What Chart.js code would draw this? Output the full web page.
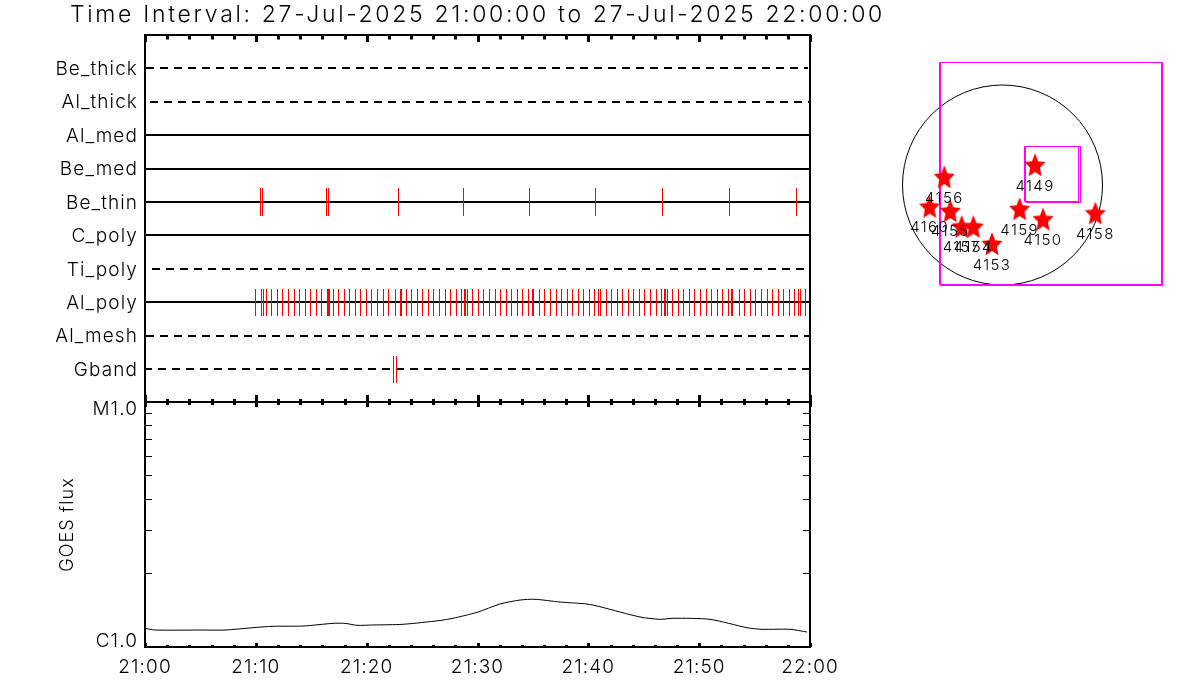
<!DOCTYPE html>
<html><head><meta charset="utf-8">
<style>html,body{margin:0;padding:0;background:#fff}canvas{position:absolute;left:0;top:0}</style>
<script src="https://cdn.jsdelivr.net/npm/chart.js@4"></script>
</head><body>
<canvas id="top" width="1200" height="700"></canvas>
<canvas id="low" width="1200" height="700"></canvas>
<canvas id="map" width="1200" height="700"></canvas>
<script>
const titleText = 'Time Interval: 27-Jul-2025 21:00:00 to 27-Jul-2025 22:00:00';
const rowNames = ['Be_thick','Al_thick','Al_med','Be_med','Be_thin','C_poly','Ti_poly','Al_poly','Al_mesh','Gband'];
const rowStart = [0.09,0.45,0,0,0,0,0,0,0.09,0];
const rowEnd = [59.82,59.91,60,60,60,60,59.46,60,60,60];
const rowDashed = [true,true,false,false,false,false,true,false,true,true];
const rowDashOffset = [0,0,0,0,0,0,7,0,0,1];
const beThinTimes = [10.42,10.60,16.39,16.57,22.86,28.74,34.69,40.69,46.70,52.76,58.78];
const gbandTimes = [22.41,22.67];
const alPolyTimes = [9.96,10.50,10.68,10.95,11.40,11.94,12.45,12.93,13.47,13.93,14.47,14.92,15.46,15.91,16.45,16.58,16.69,16.99,17.44,17.99,18.44,18.98,19.43,19.97,20.42,20.96,21.50,21.96,22.59,23.05,23.14,23.58,24.03,24.57,25.02,25.56,26.02,26.56,27.10,27.55,28.09,28.54,28.86,28.95,29.08,29.53,30.08,30.53,31.07,31.61,32.06,32.60,33.05,33.60,34.05,34.59,34.92,35.01,35.58,36.03,36.57,37.11,37.56,38.11,38.56,39.10,39.55,40.09,40.54,40.90,41.08,41.62,42.08,42.62,43.07,43.61,44.06,44.60,45.05,45.60,46.14,46.59,46.87,46.96,47.13,47.58,48.12,48.57,49.11,49.57,50.11,50.65,51.10,51.64,52.09,52.63,52.94,53.03,53.63,54.08,54.62,55.07,55.61,56.15,56.60,57.15,57.60,58.14,58.59,58.95,59.13,59.58];
const xTickLabels = ['21:00','21:10','21:20','21:30','21:40','21:50','22:00'];
const goesTimes = [0,0.9,5.23,7.22,9.74,11.55,14.26,16.96,18.05,19.13,20.57,23.28,26.62,27.79,29.96,32.03,33.84,35.19,37.45,39.88,41.05,44.66,46.47,47.64,50.98,54.32,55.67,58.2,59.73];
const goesFlux = [1.192,1.173,1.173,1.173,1.199,1.215,1.218,1.249,1.249,1.226,1.230,1.238,1.283,1.310,1.385,1.498,1.555,1.566,1.526,1.498,1.460,1.326,1.297,1.310,1.297,1.199,1.181,1.181,1.151];
const goesTickValues = [1,2,3,4,5,6,7,8,9,10];
const goesLabels = {1:'C1.0',10:'M1.0'};
const arNames = ['4149','4156','4160','4155','4157','4154','4153','4159','4150','4158'];
const arX = [309,-553,-692,-496,-388,-277,-100,163,385,882];
const arY = [180,66,-216,-256,-406,-406,-570,-238,-335,-278];
const solarRadius = 950;
const fovBoxes = [
  [[-598.5,1163.75],[1510.5,1163.75],[1510.5,-945.25],[-598.5,-945.25],[-598.5,1163.75]],
  [[-589,1163.75],[1520,1163.75],[1520,-954.75],[-589,-954.75],[-589,1163.75]],
  [[209,365.75],[722,365.75],[722,-156.75],[209,-156.75],[209,365.75]],
  [[218.5,365.75],[741,365.75],[741,-166.25],[218.5,-166.25],[218.5,365.75]]
];

const FAMILY = 'Inter';
const WEIGHT = 300;
const TITLE_SPACING = '2.68px', TICK_SPACING = '1.1px', AR_SPACING = '1.4px';
Chart.defaults.animation = false;
Chart.defaults.events = [];
Chart.defaults.color = '#000';

const setSpacing = v => ({
  id:'spacing',
  beforeLayout(c){c.ctx.letterSpacing=v},
  beforeDraw(c){c.ctx.letterSpacing=v}
});
const snap = {
  id:'snap',
  afterDatasetsUpdate(c){
    c.data.datasets.forEach((d,i)=>{
      if(!d.snap) return;
      c.getDatasetMeta(i).data.forEach(p=>{
        if(d.snap==='row'){p.y=Math.round(p.y)}
        else if(d.snap==='tick'){p.x=Math.floor(p.x)+.5;p.y=Math.round(p.y)}
        else {p.x=Math.floor(p.x)+.5;p.y=Math.floor(p.y)+.5}
      });
    });
  }
};
function frame(tickSpec){
  return {
    id:'frame',
    afterDatasetsDraw(c){
      const {ctx,chartArea:a,scales}=c;
      ctx.save();
      ctx.strokeStyle='#000';ctx.lineCap='butt';
      const draw=(x1,y1,x2,y2,w)=>{ctx.lineWidth=w;ctx.beginPath();ctx.moveTo(x1,y1);ctx.lineTo(x2,y2);ctx.stroke()};
      scales.x.ticks.forEach(t=>{
        const x=Math.round(scales.x.getPixelForValue(t.value))+.5;
        const major=t.value%10===0;
        draw(x,a.top,x,a.top+(major?tickSpec.topMajor:tickSpec.topMinor),3);
        draw(x,a.bottom,x,a.bottom-(major?tickSpec.botMajor:tickSpec.botMinor),3);
      });
      if(tickSpec.yTicks){
        scales.y.ticks.forEach(t=>{
          const y=Math.floor(scales.y.getPixelForValue(t.value))+.5;
          draw(a.left,y,a.left+tickSpec.yTicks,y,1);
          draw(a.right,y,a.right-tickSpec.yTicks,y,1);
        });
      }
      ctx.lineWidth=2;ctx.strokeRect(a.left,a.top,a.right-a.left,a.bottom-a.top);
      ctx.restore();
    }
  };
}
const titleSpacing = {
  id:'titleSpacing',
  afterLayout(c){
    const t=c.titleBlock;
    if(t.__wrapped) return;
    const d=t.draw;
    t.draw=function(){
      /* widen the box around the same centre so the long title is not squeezed to the plot width */
      const mid=(c.chartArea.left+c.chartArea.right)/2;
      t.left=mid-470;t.right=mid+470;
      c.ctx.letterSpacing=TITLE_SPACING;d.apply(t,arguments);c.ctx.letterSpacing=TICK_SPACING;
    };
    t.__wrapped=true;
  }
};
const nudgeLabels = {
  id:'nudgeLabels',
  beforeDraw(c){
    const s=c.scales.y, items=s.getLabelItems();
    if(items.__nudged) return;
    items.forEach(it=>{
      if(it.label==='M1.0') it.options.translation[1]+=6;
      if(it.label==='C1.0') it.options.translation[1]-=7;
    });
    items.__nudged=true;
  }
};
const font = size => ({family:FAMILY,size,weight:WEIGHT,lineHeight:1});
const segs = (times,row) => times.flatMap(x=>[{x,y:row-.405},{x,y:row+.405},{x,y:NaN}]);
const rowOf = name => 10-rowNames.indexOf(name);
const minuteTick = v => v%10===0 ? xTickLabels[v/10] : '';

/* Upper panel: channel rows */
new Chart(document.getElementById('top'),{
  type:'scatter',
  data:{datasets:[
    {label:'Be_thin events',data:segs(beThinTimes,rowOf('Be_thin')),showLine:true,borderColor:'#ff0000',borderWidth:1,snap:'tick'},
    {label:'Al_poly events',data:segs(alPolyTimes,rowOf('Al_poly')),showLine:true,borderColor:'#ff0000',borderWidth:1,snap:'tick'},
    {label:'Gband events',data:segs(gbandTimes,rowOf('Gband')),showLine:true,borderColor:'#ff0000',borderWidth:1,snap:'tick'},
    ...rowNames.map((n,i)=>({
      label:n,data:[{x:rowStart[i],y:10-i},{x:rowEnd[i],y:10-i}],showLine:true,
      borderColor:'#000',borderWidth:2,snap:'row',
      borderDash:rowDashed[i]?[8,6]:[],borderDashOffset:rowDashOffset[i]
    }))
  ]},
  options:{
    responsive:false,
    layout:{padding:{top:0,left:0,right:390,bottom:298}},
    elements:{point:{radius:0}},
    plugins:{legend:{display:false},tooltip:{enabled:false},
      title:{display:true,text:titleText,fullSize:false,color:'#000',font:font(23),padding:{top:4,bottom:8}}},
    scales:{
      x:{type:'linear',min:0,max:60,grid:{display:false,drawTicks:false},border:{display:false},
        ticks:{display:false,stepSize:2,autoSkip:false},afterFit:s=>{s.height=0}},
      y:{type:'linear',min:0.015,max:10.996,grid:{display:false,drawTicks:false},border:{display:false},
        ticks:{stepSize:1,autoSkip:false,padding:7,labelOffset:1,font:font(19),callback:v=>rowNames[10-v]||''},
        afterFit:s=>{s.width=145}}
    }
  },
  plugins:[setSpacing(TICK_SPACING),titleSpacing,snap,frame({topMajor:7,topMinor:4.5,botMajor:7,botMinor:3})]
});

/* Lower panel: GOES flux */
new Chart(document.getElementById('low'),{
  type:'scatter',
  data:{datasets:[{label:'GOES flux',data:goesTimes.map((x,i)=>({x,y:goesFlux[i]})),showLine:true,borderColor:'#000',borderWidth:1,tension:.25}]},
  options:{
    responsive:false,
    layout:{padding:{top:402,left:0,right:390,bottom:0}},
    elements:{point:{radius:0}},
    plugins:{legend:{display:false},tooltip:{enabled:false}},
    scales:{
      x:{type:'linear',min:0,max:60,grid:{display:false,drawTicks:false},border:{display:false},
        ticks:{stepSize:2,autoSkip:false,maxRotation:0,minRotation:0,padding:11,font:font(19),callback:minuteTick},
        afterFit:s=>{s.height=53}},
      y:{type:'logarithmic',min:1,max:10,grid:{display:false,drawTicks:false},border:{display:false},
        title:{display:true,text:'GOES flux',color:'#000',font:font(18),padding:{top:59,bottom:0}},
        ticks:{autoSkip:false,padding:7,labelOffset:1,font:font(19),callback:v=>goesLabels[v]||''},
        afterBuildTicks:s=>{s.ticks=goesTickValues.map(value=>({value}))},
        afterFit:s=>{s.width=145}}
    }
  },
  plugins:[setSpacing(TICK_SPACING),snap,nudgeLabels,frame({topMajor:5,topMinor:3,botMajor:4,botMinor:2,yTicks:7})]
});

/* Right panel: solar disc map */
function starImage(){
  const c=document.createElement('canvas');c.width=c.height=28;
  const g=c.getContext('2d');g.fillStyle='#ff0000';g.beginPath();
  for(let i=0;i<10;i++){
    const r=i%2?5.4:11.5, a=-Math.PI/2+i*Math.PI/5;
    const x=14+r*Math.cos(a)*.96, y=14+r*Math.sin(a)*1.1;
    i?g.lineTo(x,y):g.moveTo(x,y);
  }
  g.closePath();g.fill();return c;
}
const arLabels = {
  id:'arLabels',
  afterDatasetsDraw(c){
    const {ctx,scales:{x,y}}=c;
    ctx.save();ctx.font=`${WEIGHT} 15px ${FAMILY}`;ctx.fillStyle='#000';ctx.textAlign='center';ctx.textBaseline='middle';
    ctx.letterSpacing=AR_SPACING;
    arNames.forEach((n,i)=>ctx.fillText(n,x.getPixelForValue(arX[i]),y.getPixelForValue(arY[i])+20));
    ctx.restore();
  }
};
new Chart(document.getElementById('map'),{
  type:'scatter',
  data:{datasets:[
    {label:'Active regions',data:arNames.map((n,i)=>({x:arX[i],y:arY[i]})),pointStyle:starImage(),pointRadius:10,order:1},
    ...fovBoxes.map((b,i)=>({label:'FOV '+(i+1),data:b.map(p=>({x:p[0],y:p[1]})),showLine:true,borderColor:'#ff00ff',borderWidth:1,pointRadius:0,snap:'px',order:2})),
    {label:'Solar disc',data:[{x:0,y:0}],pointStyle:'circle',backgroundColor:'rgba(0,0,0,0)',borderColor:'#000',borderWidth:1,order:3,
      pointRadius:ctx=>{const s=ctx.chart.scales.x;return Math.abs(s.getPixelForValue(solarRadius)-s.getPixelForValue(0))}}
  ]},
  options:{
    responsive:false,
    layout:{padding:{top:40,left:880,right:20,bottom:400}},
    plugins:{legend:{display:false},tooltip:{enabled:false}},
    scales:{
      x:{type:'linear',display:false,min:-1163.75,max:1686.25},
      y:{type:'linear',display:false,min:-1092.5,max:1377.5}
    }
  },
  plugins:[snap,arLabels]
});
</script>
</body></html>
